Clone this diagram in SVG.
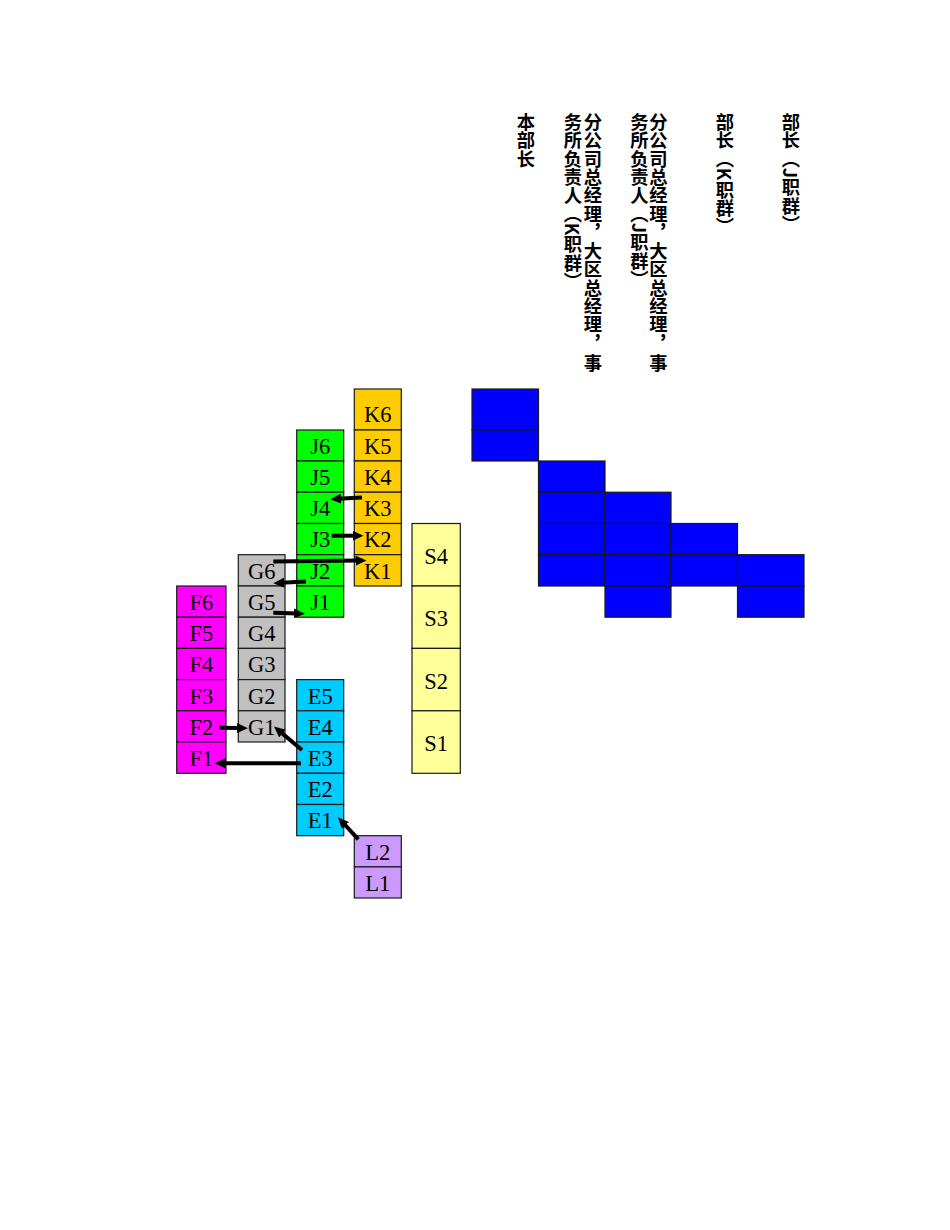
<svg xmlns="http://www.w3.org/2000/svg" width="950" height="1230" viewBox="0 0 950 1230">
<style>
.c{stroke:#1a1a1a;stroke-width:1.2}
.k{fill:#FFCC00}.j{fill:#00FF00}.g{fill:#C0C0C0}.f{fill:#FF00FF}.e{fill:#00CCFF}.l{fill:#CC99FF}.s{fill:#FFFF99}.b{fill:#0000FF}
.t{font-family:"Liberation Serif","Times New Roman",serif;font-size:22.5px;fill:#000;text-anchor:middle}
.v{font-family:"Noto Sans CJK SC","Noto Sans CJK JP",sans-serif;font-size:18.3px;font-weight:700;fill:#000;writing-mode:vertical-rl;text-orientation:mixed}
.a{stroke:#000;stroke-width:4;fill:none;marker-end:url(#ah)}
</style>
<defs>
<marker id="ah" markerUnits="userSpaceOnUse" viewBox="0 0 11 10" markerWidth="11" markerHeight="10" refX="3" refY="5" orient="auto">
<path d="M0,0 L11,5 L0,10 z" fill="#000"/>
</marker>
</defs>
<rect width="950" height="1230" fill="#fff"/>

<g id="headings">
<text class="v" x="526" y="113">本部长</text>
<text class="v" x="593" y="113">分公司总经理，<tspan y="242">大区总经理，</tspan><tspan y="354">事</tspan></text>
<text class="v" x="573" y="113">务所负责人（K职群）</text>
<text class="v" x="658.5" y="113">分公司总经理，<tspan y="242">大区总经理，</tspan><tspan y="354">事</tspan></text>
<text class="v" x="639.5" y="113">务所负责人（J职群）</text>
<text class="v" x="725" y="113">部长（K职群）</text>
<text class="v" x="791" y="113">部长（J职群）</text>
</g>

<g id="blue-grid">
<rect class="c b" x="472" y="389" width="66.5" height="41"/>
<rect class="c b" x="472" y="430" width="66.5" height="31"/>
<rect class="c b" x="538.5" y="461" width="66.5" height="31.2"/>
<rect class="c b" x="538.5" y="492.2" width="66.5" height="31.3"/>
<rect class="c b" x="538.5" y="523.5" width="66.5" height="31.2"/>
<rect class="c b" x="538.5" y="554.7" width="66.5" height="31.3"/>
<rect class="c b" x="605" y="492.2" width="66" height="31.3"/>
<rect class="c b" x="605" y="523.5" width="66" height="31.2"/>
<rect class="c b" x="605" y="554.7" width="66" height="31.3"/>
<rect class="c b" x="605" y="586" width="66" height="31.2"/>
<rect class="c b" x="671" y="523.5" width="66.5" height="31.2"/>
<rect class="c b" x="671" y="554.7" width="66.5" height="31.3"/>
<rect class="c b" x="737.5" y="554.7" width="66.5" height="31.3"/>
<rect class="c b" x="737.5" y="586" width="66.5" height="31.2"/>
</g>

<g id="K6"><rect class="c k" x="354.3" y="389" width="47" height="41"/><text class="t" x="377.8" y="421.5">K6</text></g>
<g id="K5"><rect class="c k" x="354.3" y="430" width="47" height="31"/><text class="t" x="377.8" y="453.8">K5</text></g>
<g id="K4"><rect class="c k" x="354.3" y="461" width="47" height="31.2"/><text class="t" x="377.8" y="484.9">K4</text></g>
<g id="K3"><rect class="c k" x="354.3" y="492.2" width="47" height="31.3"/><text class="t" x="377.8" y="516.1">K3</text></g>
<g id="K2"><rect class="c k" x="354.3" y="523.5" width="47" height="31.2"/><text class="t" x="377.8" y="547.4">K2</text></g>
<g id="K1"><rect class="c k" x="354.3" y="554.7" width="47" height="31.3"/><text class="t" x="377.8" y="578.6">K1</text></g>

<g id="J6"><rect class="c j" x="296.7" y="430" width="47" height="31"/><text class="t" x="320.2" y="453.8">J6</text></g>
<g id="J5"><rect class="c j" x="296.7" y="461" width="47" height="31.2"/><text class="t" x="320.2" y="484.9">J5</text></g>
<g id="J4"><rect class="c j" x="296.7" y="492.2" width="47" height="31.3"/><text class="t" x="320.2" y="516.1">J4</text></g>
<g id="J3"><rect class="c j" x="296.7" y="523.5" width="47" height="31.2"/><text class="t" x="320.2" y="547.4">J3</text></g>
<g id="J2"><rect class="c j" x="296.7" y="554.7" width="47" height="31.3"/><text class="t" x="320.2" y="578.6">J2</text></g>
<g id="J1"><rect class="c j" x="296.7" y="586" width="47" height="31.2"/><text class="t" x="320.2" y="609.9">J1</text></g>

<g id="G6"><rect class="c g" x="238.3" y="554.7" width="46.7" height="31.3"/><text class="t" x="261.7" y="578.6">G6</text></g>
<g id="G5"><rect class="c g" x="238.3" y="586" width="46.7" height="31.2"/><text class="t" x="261.7" y="609.9">G5</text></g>
<g id="G4"><rect class="c g" x="238.3" y="617.2" width="46.7" height="31.2"/><text class="t" x="261.7" y="641.1">G4</text></g>
<g id="G3"><rect class="c g" x="238.3" y="648.4" width="46.7" height="31.2"/><text class="t" x="261.7" y="672.3">G3</text></g>
<g id="G2"><rect class="c g" x="238.3" y="679.6" width="46.7" height="31.2"/><text class="t" x="261.7" y="703.5">G2</text></g>
<g id="G1"><rect class="c g" x="238.3" y="710.8" width="46.7" height="31.2"/><text class="t" x="261.7" y="734.7">G1</text></g>

<g id="F6"><rect class="c f" x="176.7" y="586" width="49.3" height="31.2"/><text class="t" x="201.3" y="609.9">F6</text></g>
<g id="F5"><rect class="c f" x="176.7" y="617.2" width="49.3" height="31.2"/><text class="t" x="201.3" y="641.1">F5</text></g>
<g id="F4"><rect class="c f" x="176.7" y="648.4" width="49.3" height="31.2"/><text class="t" x="201.3" y="672.3">F4</text></g>
<g id="F3"><rect class="c f" x="176.7" y="679.6" width="49.3" height="31.2"/><text class="t" x="201.3" y="703.5">F3</text></g>
<g id="F2"><rect class="c f" x="176.7" y="710.8" width="49.3" height="31.2"/><text class="t" x="201.3" y="734.7">F2</text></g>
<g id="F1"><rect class="c f" x="176.7" y="742" width="49.3" height="31.3"/><text class="t" x="201.3" y="766">F1</text></g>

<g id="E5"><rect class="c e" x="296.7" y="679.6" width="47" height="31.2"/><text class="t" x="320.2" y="703.5">E5</text></g>
<g id="E4"><rect class="c e" x="296.7" y="710.8" width="47" height="31.2"/><text class="t" x="320.2" y="734.7">E4</text></g>
<g id="E3"><rect class="c e" x="296.7" y="742" width="47" height="31.3"/><text class="t" x="320.2" y="766">E3</text></g>
<g id="E2"><rect class="c e" x="296.7" y="773.3" width="47" height="31.2"/><text class="t" x="320.2" y="797.2">E2</text></g>
<g id="E1"><rect class="c e" x="296.7" y="804.5" width="47" height="31.2"/><text class="t" x="320.2" y="828.4">E1</text></g>

<g id="L2"><rect class="c l" x="354.3" y="835.7" width="47" height="31.2"/><text class="t" x="377.8" y="859.6">L2</text></g>
<g id="L1"><rect class="c l" x="354.3" y="866.9" width="47" height="31.1"/><text class="t" x="377.8" y="890.8">L1</text></g>

<g id="S4"><rect class="c s" x="412" y="523.5" width="48.3" height="62.5"/><text class="t" x="436.2" y="563.8">S4</text></g>
<g id="S3"><rect class="c s" x="412" y="586" width="48.3" height="62.4"/><text class="t" x="436.2" y="626.2">S3</text></g>
<g id="S2"><rect class="c s" x="412" y="648.4" width="48.3" height="62.4"/><text class="t" x="436.2" y="688.6">S2</text></g>
<g id="S1"><rect class="c s" x="412" y="710.8" width="48.3" height="62.5"/><text class="t" x="436.2" y="751">S1</text></g>

<g id="connectors">
<line class="a" x1="362" y1="497.5" x2="338" y2="498.85"/>
<line class="a" x1="331.7" y1="535.7" x2="355.5" y2="535.7"/>
<line class="a" x1="273.3" y1="561.5" x2="358.5" y2="560.6"/>
<line class="a" x1="306" y1="581.5" x2="281.3" y2="582.8"/>
<line class="a" x1="273.3" y1="612.7" x2="297" y2="613.5"/>
<line class="a" x1="219.3" y1="727.8" x2="240" y2="728.1"/>
<line class="a" x1="302" y1="750" x2="280.1" y2="731.6"/>
<line class="a" x1="301" y1="763.3" x2="222.5" y2="763.3"/>
<line class="a" x1="358.3" y1="839.3" x2="343.4" y2="823.2"/>
</g>
</svg>
